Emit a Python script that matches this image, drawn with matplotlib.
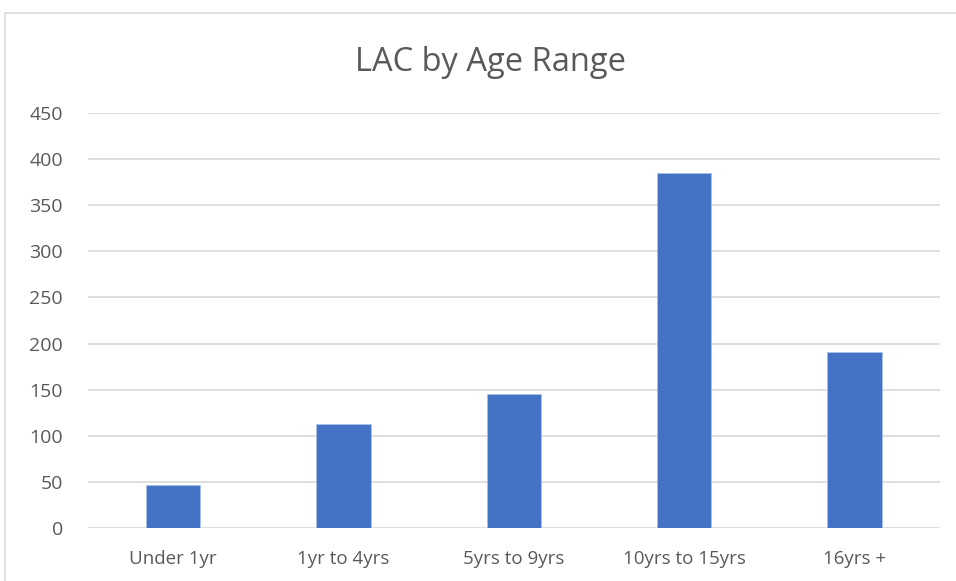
import matplotlib.pyplot as plt
from matplotlib.patches import Rectangle

categories = ['Under 1yr', '1yr to 4yrs', '5yrs to 9yrs', '10yrs to 15yrs', '16yrs +']
values = [47, 113, 145, 385, 191]
y_ticks = [0, 50, 100, 150, 200, 250, 300, 350, 400, 450]

plt.rcParams['font.family'] = ['Open Sans', 'DejaVu Sans']
text_col = '#595959'
grid_col = '#D9D9D9'

fig = plt.figure(figsize=(9.56, 5.81), dpi=100)
ax = fig.add_axes([0.092, 0.0912, 0.891, 0.7143])

# chart frame (cut off at right and bottom like the screenshot)
frame = Rectangle((5 / 956, -0.05), 1.1, 1 - 13 / 581 + 0.05, transform=fig.transFigure,
                  fill=False, edgecolor=grid_col, linewidth=1.2, clip_on=False)
fig.patches.append(frame)

x = range(len(categories))
ax.bar(x, values, width=0.32, color='#4472C4', edgecolor='#A9C0E8', linewidth=0.6, zorder=3)

ax.set_xlim(-0.5, len(categories) - 0.5)
ax.set_ylim(0, 450)
ax.set_yticks(y_ticks)
ax.set_xticks(list(x))
ax.set_xticklabels(categories)
ax.grid(axis='y', color=grid_col, linewidth=1.2, zorder=0)
ax.tick_params(axis='both', length=0, labelsize=14, labelcolor=text_col)
ax.tick_params(axis='y', pad=18)
ax.tick_params(axis='x', pad=16, labelsize=13.5)
for s in ax.spines.values():
    s.set_visible(False)

fig.text(0.513, 0.893, 'LAC by Age Range', ha='center', va='center', fontsize=23.5, color=text_col)

fig.savefig('out.png', dpi=100)
